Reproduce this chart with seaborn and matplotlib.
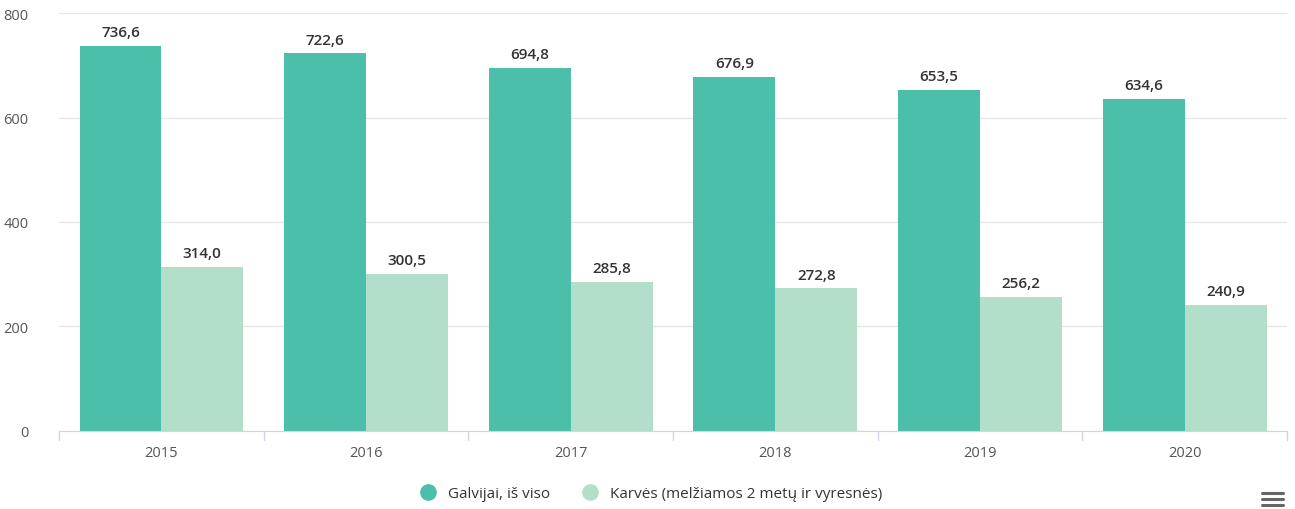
import numpy as np
import pandas as pd
import matplotlib
matplotlib.use("Agg")
import matplotlib.pyplot as plt
import seaborn as sns
from matplotlib.lines import Line2D

years = ["2015", "2016", "2017", "2018", "2019", "2020"]
galvijai = [736.6, 722.6, 694.8, 676.9, 653.5, 634.6]
karves = [314.0, 300.5, 285.8, 272.8, 256.2, 240.9]
series_names = ["Galvijai, iš viso", "Karvės (melžiamos 2 metų ir vyresnės)"]
colors = ["#4bbfa9", "#b3dec9"]

df = pd.DataFrame({
    "year": years * 2,
    "value": galvijai + karves,
    "series": [series_names[0]] * len(years) + [series_names[1]] * len(years),
})

sns.set_style("white")
plt.rcParams["font.family"] = ["Open Sans", "DejaVu Sans"]

fig = plt.figure(figsize=(12.95, 5.10), dpi=100)
ax = fig.add_axes([0.0456, 0.153, 0.9482, 0.8195])

sns.barplot(data=df, x="year", y="value", hue="series", palette=colors,
            width=0.8, saturation=1, linewidth=0, ax=ax, legend=False)

# value labels, comma decimal
for cont in ax.containers:
    labels = [f"{v:.1f}".replace(".", ",") for v in cont.datavalues]
    ax.bar_label(cont, labels=labels, padding=5, fontsize=11,
                 fontweight="semibold", color="#333333")

ax.set_ylim(0, 800)
ax.set_yticks([0, 200, 400, 600, 800])
ax.set_xlim(-0.5, len(years) - 0.5)
ax.yaxis.grid(True, color="#e6e6e6", linewidth=1)
ax.set_axisbelow(True)
ax.set_xlabel("")
ax.set_ylabel("")
for s in ["top", "right", "left"]:
    ax.spines[s].set_visible(False)
ax.spines["bottom"].set_color("#ccd6eb")
ax.tick_params(axis="y", length=0, labelsize=10.5, labelcolor="#555555", pad=22)
ax.tick_params(axis="x", length=0, labelsize=10.5, labelcolor="#555555", pad=10)

# category boundary ticks
for b in np.arange(-0.5, len(years), 1.0):
    ax.plot([b, b], [0, -0.022], transform=ax.get_xaxis_transform(),
            color="#ccd6eb", lw=1, clip_on=False)

# legend with circle markers
handles = [Line2D([0], [0], marker="o", linestyle="", markersize=11,
                  markerfacecolor=c, markeredgecolor=c) for c in colors]
fig.legend(handles, series_names, loc="center", bbox_to_anchor=(0.5, 0.03),
           ncol=2, frameon=False, fontsize=11, handletextpad=0.3,
           columnspacing=1.6, labelcolor="#333333")

# hamburger menu icon
for dy in (0.0, 0.012, 0.024):
    fig.add_artist(Line2D([0.9745, 0.9905], [0.008 + dy] * 2, color="#666666", lw=2.2))

fig.savefig("out.png", dpi=100)
